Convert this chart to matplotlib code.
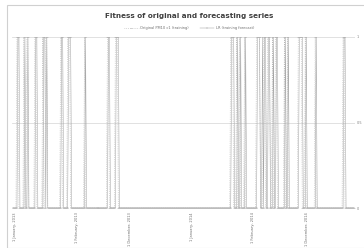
import numpy as np
import matplotlib.pyplot as plt
from matplotlib.patches import Rectangle

n_points = 344

# indices where the series equal 1 (all others are 0)
orig_ones = [4, 5, 11, 14, 15, 22, 23, 30, 33, 34, 48, 49, 55, 56, 57, 72,
             95, 96, 103, 104, 105, 219, 220, 221, 225, 228, 233,
             245, 246, 247, 248, 252, 253, 256, 257, 258, 261, 264, 265,
             273, 276, 287, 288, 289, 290, 294, 304, 332, 333]
lr_ones = [5, 6, 12, 15, 23, 24, 31, 32, 34, 49, 50, 56, 57, 58, 73,
           96, 97, 104, 105, 106, 220, 221, 222, 226, 229, 234,
           246, 247, 248, 251, 253, 254, 257, 258, 262, 265, 266,
           274, 277, 288, 289, 290, 291, 295, 305, 333, 334]

tick_pos = [2, 64, 118, 180, 241, 296]
tick_labels = ["1 January, 2013", "1 February, 2013", "1 December, 2013",
               "1 January, 2014", "1 February, 2014", "1 December, 2014"]

original = np.zeros(n_points)
original[orig_ones] = 1
lr = np.zeros(n_points)
lr[lr_ones] = 1
idx = np.arange(n_points)

fig = plt.figure(figsize=(3.64, 2.48), dpi=100)
fig.patches.append(Rectangle((7 / 364, 0), 1, 1 - 5 / 248, transform=fig.transFigure,
                             fill=False, edgecolor="#d0d0d0", linewidth=0.8))
ax = fig.add_axes([12 / 364, 1 - 208 / 248, 343 / 364, 171 / 248])

ax.plot(idx, original, color="#b4b4b4", linestyle=":", linewidth=0.5,
        marker="_", markersize=1.2, markeredgewidth=0.4,
        label="Original PM10 c1 (training)", zorder=3)
ax.plot(idx, lr, color="#a0a0a0", linestyle="-", linewidth=0.35,
        marker="_", markersize=1.0, markeredgewidth=0.3,
        label="LR (training forecast)", zorder=2)

ax.set_xlim(-1, n_points)
ax.set_ylim(0, 1)
ax.set_yticks([0, 0.5, 1])
ax.set_yticklabels(["0", "0.5", "1"])
ax.yaxis.tick_right()
ax.tick_params(axis="y", labelsize=2.5, length=0, pad=1, colors="#808080")
ax.set_xticks(tick_pos)
ax.set_xticklabels(tick_labels, rotation=90, fontsize=2.6, color="#707070")
ax.tick_params(axis="x", length=0, pad=3)
ax.grid(axis="y", color="#dcdcdc", linewidth=0.6)
ax.set_axisbelow(True)
for s in ax.spines.values():
    s.set_visible(False)

fig.text(0.52, 1 - 16 / 248, "Fitness of original and forecasting series",
         ha="center", va="center", fontsize=5.2, fontweight="bold", color="#404040",
         family="Liberation Sans Narrow")
fig.legend(loc="center", bbox_to_anchor=(0.52, 1 - 28 / 248), ncol=2, frameon=False,
           fontsize=2.6, handlelength=4, columnspacing=3, handletextpad=0.5,
           labelcolor="#707070")

fig.savefig("out.png", dpi=100)
